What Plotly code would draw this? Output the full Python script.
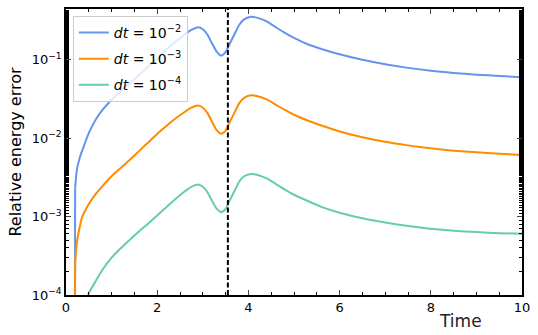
import plotly.graph_objects as go

time = [0.19, 0.2, 0.24, 0.3, 0.35, 0.5, 0.65, 0.8, 1.0, 1.2, 1.4, 1.6, 1.8, 2.0, 2.2, 2.4, 2.6, 2.75,
        2.9, 3.0, 3.1, 3.2, 3.3, 3.4, 3.5, 3.6, 3.7, 3.8, 3.9, 4.05, 4.2, 4.4, 4.6, 4.8, 5.0, 5.3,
        5.6, 6.0, 6.5, 7.0, 7.5, 8.0, 8.5, 9.0, 9.5, 10.0]

err_dt2 = [1e-8, 2.3e-3, 4.0e-3, 5.6e-3, 6.8e-3, 0.0116, 0.0172, 0.0229, 0.0309, 0.0398, 0.0501,
           0.0638, 0.0813, 0.1047, 0.135, 0.17, 0.209, 0.24, 0.26, 0.245, 0.21, 0.163, 0.128,
           0.113, 0.125, 0.165, 0.215, 0.28, 0.325, 0.355, 0.343, 0.309, 0.26, 0.221, 0.1905,
           0.158, 0.1374, 0.1175, 0.100, 0.0877, 0.0789, 0.0724, 0.0679, 0.0646, 0.0621, 0.060]

err_dt3 = [1e-8, 2.5e-4, 4.7e-4, 7.3e-4, 9.7e-4, 1.45e-3, 1.94e-3, 2.45e-3, 3.27e-3, 4.17e-3,
           5.3e-3, 6.84e-3, 8.8e-3, 0.01135, 0.0143, 0.0178, 0.0216, 0.0245, 0.0262, 0.0245,
           0.021, 0.0163, 0.0128, 0.0114, 0.0125, 0.0165, 0.0215, 0.028, 0.0325, 0.0352, 0.0343,
           0.0312, 0.0268, 0.0229, 0.0199, 0.0168, 0.0145, 0.0122, 0.0103, 0.0090, 0.0081,
           0.00742, 0.00694, 0.0066, 0.00633, 0.0061]

err_dt4 = [1e-8, 2.5e-5, 3.5e-5, 5.0e-5, 6.0e-5, 1.05e-4, 1.5e-4, 2.1e-4, 2.99e-4, 3.94e-4, 5.07e-4,
           6.46e-4, 8.13e-4, 1.035e-3, 1.32e-3, 1.68e-3, 2.09e-3, 2.4e-3, 2.57e-3, 2.4e-3, 2.05e-3,
           1.6e-3, 1.27e-3, 1.14e-3, 1.25e-3, 1.65e-3, 2.15e-3, 2.8e-3, 3.25e-3, 3.5e-3, 3.4e-3,
           3.07e-3, 2.62e-3, 2.21e-3, 1.9e-3, 1.58e-3, 1.33e-3, 1.12e-3, 9.5e-4, 8.4e-4, 7.6e-4,
           7.0e-4, 6.6e-4, 6.35e-4, 6.15e-4, 6.05e-4]

series_names = ["<i>dt</i> = 10<sup>−2</sup>", "<i>dt</i> = 10<sup>−3</sup>", "<i>dt</i> = 10<sup>−4</sup>"]
series_colors = ["#6495ED", "#FF8C00", "#66CDAA"]
event_time = 3.55

xtick_vals = [0, 2, 4, 6, 8, 10]
ytick_vals = [1e-4, 1e-3, 1e-2, 1e-1]
ytick_text = ["10<sup>−4</sup>", "10<sup>−3</sup>", "10<sup>−2</sup>", "10<sup>−1</sup>"]

font_family = "DejaVu Sans"

fig = go.Figure()
for i, (vals, name, col) in enumerate(zip([err_dt2, err_dt3, err_dt4], series_names, series_colors)):
    # initial jump from zero error (straight), then the smooth evolution
    fig.add_trace(go.Scatter(x=time[:2], y=vals[:2], mode="lines", showlegend=False,
                             legendgroup=f"g{i}", hoverinfo="skip",
                             line=dict(color=col, width=2)))
    fig.add_trace(go.Scatter(x=time[1:], y=vals[1:], mode="lines", name=name, legendgroup=f"g{i}",
                             line=dict(color=col, width=2, shape="spline", smoothing=0.6)))

fig.add_shape(type="line", x0=event_time, x1=event_time, y0=0, y1=1, xref="x", yref="paper",
              line=dict(color="black", width=2, dash="5px,2.5px"))

fig.add_annotation(text="Time", x=(460 - 66) / 456, y=-(321 - 295) / 288, xref="paper", yref="paper",
                   showarrow=False, xanchor="center", yanchor="middle",
                   font=dict(size=17, family=font_family, color="#222"))

fig.update_layout(
    width=538, height=335,
    margin=dict(l=66, r=16, t=7, b=40),
    paper_bgcolor="white", plot_bgcolor="white",
    font=dict(family=font_family, size=13, color="black"),
    showlegend=True,
    legend=dict(x=0.015, y=0.976, xanchor="left", yanchor="top",
                bgcolor="rgba(255,255,255,0.8)", bordercolor="#cccccc", borderwidth=1,
                font=dict(size=14, family=font_family), tracegroupgap=5),
    xaxis=dict(range=[0, 10], tickvals=xtick_vals, ticks="inside", ticklen=5, tickwidth=1,
               showline=True, linecolor="black", linewidth=1.5, mirror="ticks", showgrid=False,
               zeroline=False, tickfont=dict(size=13),
               minor=dict(dtick=0.5, ticks="inside", ticklen=3, tickcolor="black", showgrid=False)),
    yaxis=dict(type="log", range=[-4, -0.352], tickvals=ytick_vals, ticktext=ytick_text,
               ticks="inside", ticklen=5, tickwidth=1, showline=True, linecolor="black",
               linewidth=1.5, mirror="ticks", showgrid=False, zeroline=False,
               tickfont=dict(size=13),
               title=dict(text="Relative energy error", font=dict(size=16), standoff=6),
               minor=dict(ticks="inside", ticklen=3, tickcolor="black", showgrid=False)),
)

fig.write_html("out.html", config={"displayModeBar": False},
               post_script="document.body.style.margin='0';document.body.style.padding='0';")
